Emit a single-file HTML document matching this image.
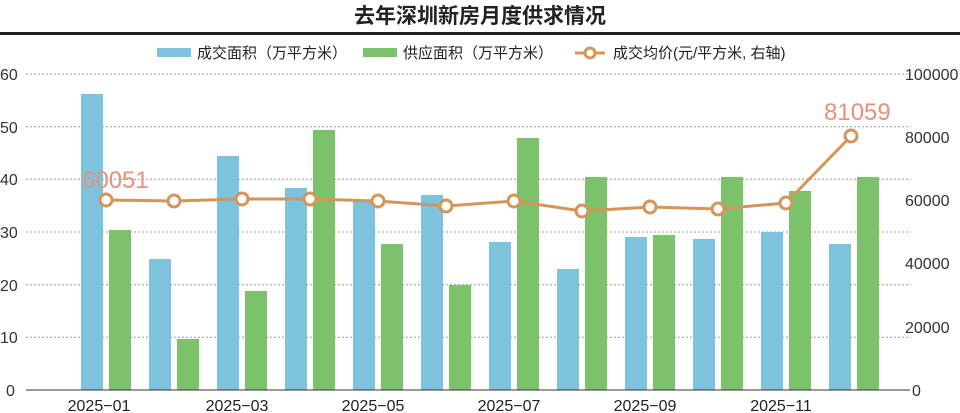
<!DOCTYPE html><html><head><meta charset="utf-8"><style>body{margin:0;background:#fff}svg{display:block;font-family:"Liberation Sans","Noto Sans CJK SC",sans-serif}</style></head><body>
<svg width="960" height="413" viewBox="0 0 960 413" xmlns="http://www.w3.org/2000/svg">
<text x="480" y="23" text-anchor="middle" font-size="21" font-weight="bold" fill="#222">去年深圳新房月度供求情况</text>
<rect x="0" y="32" width="960" height="3" fill="#222"/>
<rect x="157" y="48" width="34" height="9" fill="#7ec3de"/><text x="197" y="58" font-size="15" fill="#222">成交面积（万平方米）</text>
<rect x="363" y="48" width="34" height="9" fill="#7cc26a"/><text x="403" y="58" font-size="15" fill="#222">供应面积（万平方米）</text>
<line x1="575" y1="53" x2="605" y2="53" stroke="#d4955a" stroke-width="3"/><circle cx="590" cy="53" r="5" fill="#fff" stroke="#d4955a" stroke-width="3"/><text x="613" y="58" font-size="15" fill="#222">成交均价(元/平方米, 右轴)</text>
<g stroke="#999" stroke-dasharray="2,2" stroke-width="1">
<line x1="26" y1="74" x2="911" y2="74"/><line x1="26" y1="126.7" x2="911" y2="126.7"/><line x1="26" y1="179.3" x2="911" y2="179.3"/><line x1="26" y1="232" x2="911" y2="232"/><line x1="26" y1="284.7" x2="911" y2="284.7"/><line x1="26" y1="337.3" x2="911" y2="337.3"/>
</g>
<g font-size="16" fill="#333">
<text x="0" y="80">60</text><text x="0" y="133">50</text><text x="0" y="185">40</text><text x="0" y="238">30</text><text x="0" y="291">20</text><text x="0" y="343">10</text><text x="6" y="396">0</text>
<text x="905" y="80">100000</text><text x="905" y="143">80000</text><text x="905" y="206">60000</text><text x="905" y="269">40000</text><text x="905" y="333">20000</text><text x="912" y="396">0</text>
</g>
<g fill="#7ec3de">
<rect x="81" y="94" width="22" height="296"/><rect x="149" y="259" width="22" height="131"/><rect x="217" y="156" width="22" height="234"/><rect x="285" y="188" width="22" height="202"/><rect x="353" y="200" width="22" height="190"/><rect x="421" y="195" width="22" height="195"/><rect x="489" y="242" width="22" height="148"/><rect x="557" y="269" width="22" height="121"/><rect x="625" y="237" width="22" height="153"/><rect x="693" y="239" width="22" height="151"/><rect x="761" y="232" width="22" height="158"/><rect x="829" y="244" width="22" height="146"/>
</g>
<g fill="#7cc26a">
<rect x="109" y="230" width="22" height="160"/><rect x="177" y="339" width="22" height="51"/><rect x="245" y="291" width="22" height="99"/><rect x="313" y="130" width="22" height="260"/><rect x="381" y="244" width="22" height="146"/><rect x="449" y="285" width="22" height="105"/><rect x="517" y="138" width="22" height="252"/><rect x="585" y="177" width="22" height="213"/><rect x="653" y="235" width="22" height="155"/><rect x="721" y="177" width="22" height="213"/><rect x="789" y="191" width="22" height="199"/><rect x="857" y="177" width="22" height="213"/>
</g>
<line x1="26" y1="390" x2="910" y2="390" stroke="#333" stroke-width="1"/>
<g font-size="16" fill="#222" text-anchor="middle">
<text x="99" y="411">2025−01</text><text x="237" y="411">2025−03</text><text x="373" y="411">2025−05</text><text x="509" y="411">2025−07</text><text x="645" y="411">2025−09</text><text x="781" y="411">2025−11</text>
</g>
<polyline fill="none" stroke="#d4955a" stroke-width="3" points="106,200 174,201 242,199 310,199 378,201 446,206 514,201 582,211 650,207 718,209 786,203 851,136"/>
<g fill="#fff" stroke="#d4955a" stroke-width="3">
<circle cx="106" cy="200" r="6"/><circle cx="174" cy="201" r="6"/><circle cx="242" cy="199" r="6"/><circle cx="310" cy="199" r="6"/><circle cx="378" cy="201" r="6"/><circle cx="446" cy="206" r="6"/><circle cx="514" cy="201" r="6"/><circle cx="582" cy="211" r="6"/><circle cx="650" cy="207" r="6"/><circle cx="718" cy="209" r="6"/><circle cx="786" cy="203" r="6"/><circle cx="851" cy="136" r="6"/>
</g>
<text x="82" y="188" font-size="24" fill="#e8907a">60051</text>
<text x="824" y="120" font-size="24" fill="#e8907a">81059</text>
</svg></body></html>
